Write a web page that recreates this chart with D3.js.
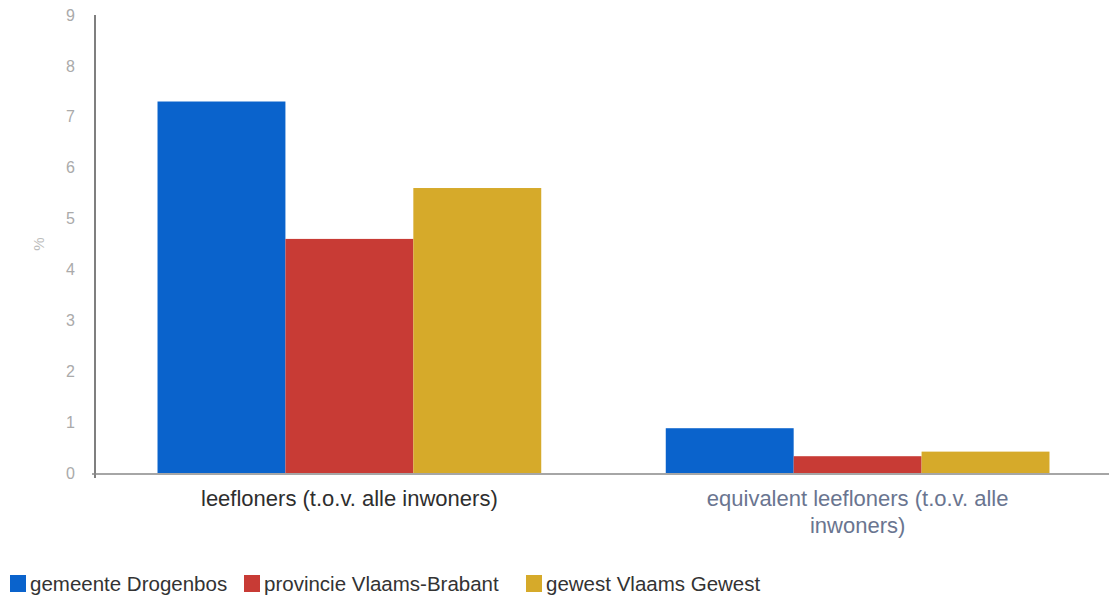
<!DOCTYPE html>
<html><head><meta charset="utf-8">
<script src="https://cdn.jsdelivr.net/npm/d3@7"></script>
<style>body{margin:0;background:#fff;}svg{display:block;font-family:"Liberation Sans",Arial,sans-serif;}</style>
</head><body>
<svg id="chart" width="1109" height="602"></svg>
<script>
const categories = ["leefloners (t.o.v. alle inwoners)", "equivalent leefloners (t.o.v. alle inwoners)"];
const seriesNames = ["gemeente Drogenbos", "provincie Vlaams-Brabant", "gewest Vlaams Gewest"];
const drogenbos = [7.3, 0.88];
const vlaamsBrabant = [4.6, 0.33];
const vlaamsGewest = [5.6, 0.42];
const yTicks = [0, 1, 2, 3, 4, 5, 6, 7, 8, 9];
const seriesColors = ["#0a63cc", "#c83b35", "#d6aa2a"];
const labelColors = ["#2e2e2e", "#6a7590"];

const seriesValues = [drogenbos, vlaamsBrabant, vlaamsGewest];
const svg = d3.select("#chart");
const m = {left: 95, right: -3, top: 15, bottom: 129};
const W = 1109, H = 602;
const x0 = d3.scaleBand().domain(categories).range([m.left, W - m.right]).paddingInner(0.245).paddingOuter(0.123);
const x1 = d3.scaleBand().domain(seriesNames).range([0, x0.bandwidth()]);
const y = d3.scaleLinear().domain([0, 9]).range([H - m.bottom, m.top]);

// bars
const g = svg.append("g");
categories.forEach((c, ci) => {
  g.selectAll(null).data(seriesNames).enter().append("rect")
    .attr("x", s => x0(c) + x1(s))
    .attr("y", (s, si) => y(seriesValues[si][ci]))
    .attr("width", x1.bandwidth())
    .attr("height", (s, si) => y(0) - y(seriesValues[si][ci]))
    .attr("fill", (s, si) => seriesColors[si]);
});

// y axis
const yAxis = d3.axisLeft(y).tickValues(yTicks).tickSize(0).tickPadding(20);
const ya = svg.append("g").attr("transform", `translate(${m.left},0)`).call(yAxis);
ya.select(".domain").attr("stroke", "#555").attr("stroke-width", 1.5).attr("d", `M0,${y(9)}V${y(0)+5}`);
ya.selectAll("text").attr("fill", "#aaa").style("font-size", "16px");

// x baseline
svg.append("line").attr("x1", m.left - 3).attr("x2", W).attr("y1", y(0)+1).attr("y2", y(0)+1)
  .attr("stroke", "#888").attr("stroke-width", 1.5);

// y label
svg.append("text").attr("transform", `translate(44,${y(4.5)}) rotate(-90)`)
  .attr("text-anchor", "middle").attr("fill", "#bbb").style("font-size", "15px").text("%");

// category labels with wrapping
const maxW = 340;
categories.forEach((c, ci) => {
  const t = svg.append("text").attr("text-anchor", "middle").attr("fill", labelColors[ci])
    .style("font-size", "22px").attr("x", x0(c) + x0.bandwidth()/2).attr("y", 506);
  const words = c.split(" ");
  let line = [];
  let ts = t.append("tspan").attr("x", x0(c) + x0.bandwidth()/2).attr("dy", 0);
  words.forEach(w => {
    line.push(w);
    ts.text(line.join(" "));
    if (ts.node().getComputedTextLength() > maxW && line.length > 1) {
      line.pop(); ts.text(line.join(" "));
      line = [w];
      ts = t.append("tspan").attr("x", x0(c) + x0.bandwidth()/2).attr("dy", 27).text(w);
    }
  });
});

// legend
const legX = [10, 244, 526];
const lg = svg.append("g");
seriesNames.forEach((s, si) => {
  lg.append("rect").attr("x", legX[si]).attr("y", 575).attr("width", 16).attr("height", 17).attr("fill", seriesColors[si]);
  lg.append("text").attr("x", legX[si] + 20).attr("y", 591).attr("fill", "#333").style("font-size", "20.5px").text(s);
});
</script>
</body></html>
